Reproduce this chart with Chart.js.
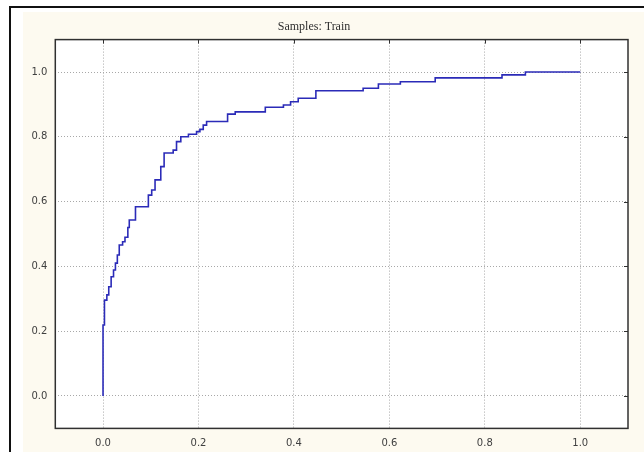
<!DOCTYPE html>
<html>
<head>
<meta charset="utf-8">
<script src="https://cdn.jsdelivr.net/npm/chart.js@4"></script>
<style>
  html, body { margin: 0; padding: 0; background: #ffffff; }
  #wrap { position: relative; width: 644px; height: 452px; }
</style>
</head>
<body>
<div id="wrap"><canvas id="rocChart" width="644" height="452"></canvas></div>
<script>
// Точки ROC-кривой (ложноположительные / истинноположительные доли)
var fprValues = [0, 0, 0.003, 0.008, 0.012, 0.017, 0.022, 0.026, 0.030, 0.034,
    0.041, 0.046, 0.052, 0.055, 0.068, 0.095, 0.102, 0.109, 0.121, 0.128,
    0.147, 0.154, 0.163, 0.179, 0.196, 0.203, 0.210, 0.217, 0.261, 0.277,
    0.340, 0.378, 0.393, 0.409, 0.446, 0.545, 0.577, 0.623, 0.696, 0.836,
    0.885, 1.0];
var tprValues = [0, 0.219, 0.296, 0.312, 0.337, 0.368, 0.389, 0.410, 0.435, 0.466,
    0.476, 0.490, 0.520, 0.543, 0.584, 0.620, 0.636, 0.667, 0.708, 0.750,
    0.759, 0.785, 0.800, 0.808, 0.816, 0.823, 0.836, 0.847, 0.870, 0.877,
    0.891, 0.898, 0.908, 0.919, 0.942, 0.950, 0.963, 0.970, 0.982, 0.991,
    1.0, 1.0];

// Деления осей
var xTickValues = [0, 0.2, 0.4, 0.6, 0.8, 1.0];
var yTickValues = [0, 0.2, 0.4, 0.6, 0.8, 1.0];
var chartTitle = "Samples: Train";

var rocPoints = fprValues.map(function (x, i) { return { x: x, y: tprValues[i] }; });

// Фон, рамка и обводка области графика
var framePlugin = {
    id: 'frame',
    beforeDraw: function (chart) {
        var ctx = chart.ctx, a = chart.chartArea;
        ctx.save();
        ctx.fillStyle = '#ffffff';
        ctx.fillRect(0, 0, chart.width, chart.height);
        ctx.fillStyle = '#fdfaf0';
        ctx.fillRect(23, 12, chart.width - 23, chart.height - 12);
        ctx.fillStyle = '#111111';
        ctx.fillRect(9, 6, 2, chart.height - 6);
        ctx.fillRect(9, 6, chart.width - 9, 2);
        ctx.fillStyle = '#ffffff';
        ctx.fillRect(a.left, a.top, a.right - a.left, a.bottom - a.top);
        ctx.restore();
    },
    afterDraw: function (chart) {
        var ctx = chart.ctx, a = chart.chartArea;
        var xs = chart.scales.x, ys = chart.scales.y;
        ctx.save();
        ctx.strokeStyle = '#303030';
        ctx.lineWidth = 1.5;
        ctx.strokeRect(a.left, a.top, a.right - a.left, a.bottom - a.top);
        ctx.beginPath();
        xTickValues.forEach(function (v) {
            var px = Math.round(xs.getPixelForValue(v)) + 0.5;
            ctx.moveTo(px, a.top); ctx.lineTo(px, a.top + 4);
        });
        yTickValues.forEach(function (v) {
            var py = Math.round(ys.getPixelForValue(v)) + 0.5;
            ctx.moveTo(a.right, py); ctx.lineTo(a.right - 4, py);
        });
        ctx.lineWidth = 1;
        ctx.stroke();
        ctx.restore();
    }
};

var rocChart = new Chart(document.getElementById('rocChart').getContext('2d'), {
    type: 'line',
    data: {
        datasets: [{
            data: rocPoints,
            borderColor: '#2b2bb8',
            borderWidth: 1.6,
            pointRadius: 0,
            stepped: 'before', // сначала горизонталь, потом вертикаль
            fill: false
        }]
    },
    plugins: [framePlugin],
    options: {
        responsive: false,
        animation: false,
        layout: { padding: { left: 0, right: 16, top: 0, bottom: 0 } },
        scales: {
            x: {
                type: 'linear',
                min: -0.1,
                max: 1.1,
                afterBuildTicks: function (s) { s.ticks = xTickValues.map(function (v) { return { value: v }; }); },
                afterFit: function (s) { s.height = 23.6; },
                grid: { color: '#a8a8a8', drawTicks: false, lineWidth: 1 },
                border: { display: false, dash: [1, 2] },
                ticks: {
                    padding: 9,
                    color: '#404040',
                    font: { size: 10, family: 'DejaVu Sans' },
                    callback: function (v) { return v.toFixed(1); }
                }
            },
            y: {
                min: -0.1,
                max: 1.1,
                afterBuildTicks: function (s) { s.ticks = yTickValues.map(function (v) { return { value: v }; }); },
                afterFit: function (s) { s.width = 55.3; },
                grid: { color: '#a8a8a8', drawTicks: false, lineWidth: 1 },
                border: { display: false, dash: [1, 2] },
                ticks: {
                    padding: 8,
                    color: '#404040',
                    font: { size: 10, family: 'DejaVu Sans' },
                    callback: function (v) { return v.toFixed(1); }
                }
            }
        },
        plugins: {
            legend: { display: false },
            tooltip: { enabled: false },
            title: {
                display: true,
                text: chartTitle,
                color: '#303030',
                font: { size: 12, family: 'Liberation Serif', weight: 'normal', lineHeight: 1.2 },
                padding: { top: 20, bottom: 5.2 }
            }
        }
    }
});
</script>
</body>
</html>
